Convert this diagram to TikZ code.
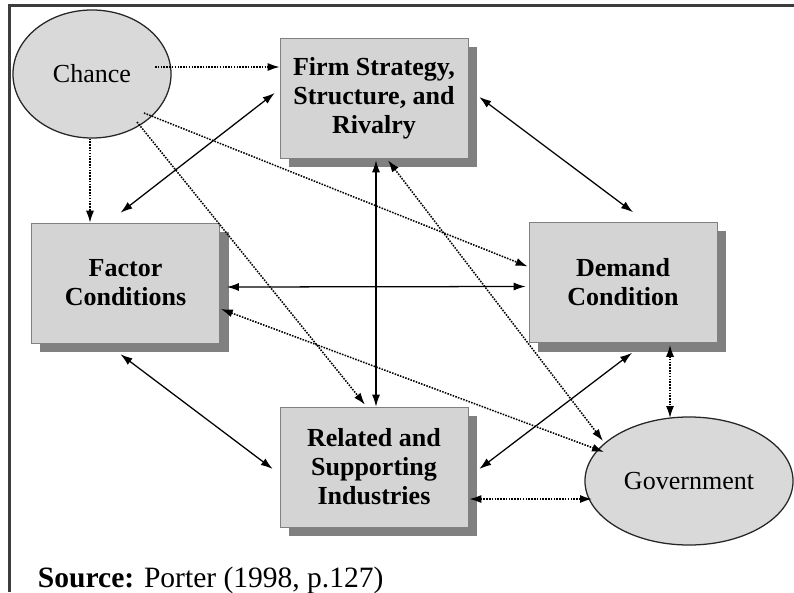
\documentclass[tikz,border=0pt]{standalone}
\usepackage{fontspec}
\setmainfont{Liberation Serif}
\usetikzlibrary{arrows.meta, shapes.geometric, shadows}
\definecolor{boxgray}{RGB}{212,212,212}
\definecolor{ovalgray}{RGB}{217,217,217}
\definecolor{shadowgray}{RGB}{128,128,128}
\definecolor{framegray}{RGB}{60,60,60}

\begin{document}
\begin{tikzpicture}[
    x=0.025cm, y=-0.025cm,
    >={Latex[length=0.3cm, width=0.2cm]},
    determinant/.style={rectangle, draw=gray, fill=boxgray, minimum width=4.7cm, minimum height=3cm, align=center, font=\fontsize{18.5}{20.6}\selectfont\bfseries, drop shadow={shadow xshift=0.225cm, shadow yshift=-0.225cm, fill=shadowgray, opacity=1}},
    outside/.style={ellipse, draw=black!85, line width=0.9pt, fill=ovalgray, inner sep=0pt, font=\fontsize{18.5}{20.6}\selectfont},
    link/.style={<->, line width=0.9pt},
    influence/.style={->, dash pattern=on 1.1pt off 0.9pt, line width=1.1pt},
    mutual/.style={<->, dash pattern=on 1.1pt off 0.9pt, line width=1.1pt}
]
\useasboundingbox (0,0) rectangle (794,592);

% Frame
\draw[framegray, line width=0.05cm] (9.5,592) -- (9.5,5.5) -- (794,5.5);

% Diamond boxes
\node[determinant] (firm) at (374,98) {Firm Strategy,\\Structure, and\\Rivalry};
\node[determinant] (factor) at (125.5,283) {Factor\\Conditions};
\node[determinant] (demand) at (623,282.5) {Demand\\Condition};
\node[determinant] (related) at (374,467) {Related and\\Supporting\\Industries};

% Outside forces
\node[outside, minimum width=3.95cm, minimum height=3.2cm] (chance) at (92,74) {Chance};
\node[outside, minimum width=5.2cm, minimum height=3.2cm] (government) at (689,481) {Government};

% Source
\node[anchor=base west, font=\fontsize{21}{24}\selectfont] (source) at (33,587) {\textbf{Source:} Porter (1998, p.127)};

% Chance arrows
\draw[influence] ([shift={(63,-7)}]chance.center) -- ([shift={(0,-31)}]firm.west);
\draw[influence] ([shift={(-2,0)}]chance.south) -- ([shift={(-2,0)}]chance.south |- factor.north);
\draw[influence] ([shift={(52,39)}]chance.center) -- ([shift={(-1,-16)}]demand.west);
\draw[influence] ([shift={(45,48)}]chance.center) -- ([shift={(-9,-2)}]related.north);

% Links inside the diamond
\draw[link] ([shift={(-5,-10)}]factor.north) -- ([shift={(-5,-5)}]firm.west);
\draw[link] ([shift={(11,-1)}]firm.east) -- ([shift={(10,-10)}]demand.north);
\draw[link] ([shift={(7,4)}]factor.east) -- ([shift={(-3,4)}]demand.west);
\draw[link] ([shift={(2,2)}]firm.south) -- ([shift={(2,0)}]related.north);
\draw[link] ([shift={(9,10)}]demand.south) -- ([shift={(11,2)}]related.east);
\draw[link] ([shift={(-5,11)}]factor.south) -- ([shift={(-7,2)}]related.west);

% Government arrows
\draw[mutual] ([shift={(14,2)}]firm.south) -- ([shift={(-86,-40)}]government.center);
\draw[mutual] ([shift={(1,26)}]factor.east) -- ([shift={(-85,-29)}]government.center);
\draw[mutual] ([shift={(47,2)}]demand.south) -- ([shift={(-19,-63)}]government.center);
\draw[mutual] ([shift={(1,32)}]related.east) -- ([shift={(-97,18)}]government.center);

\end{tikzpicture}
\end{document}
